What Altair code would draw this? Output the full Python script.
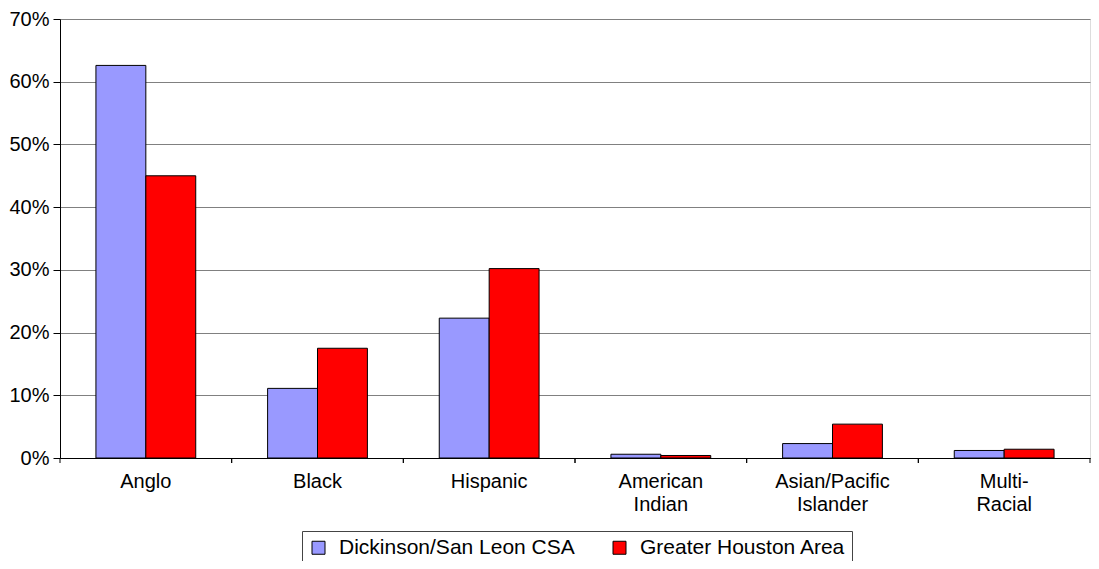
import altair as alt
import pandas as pd

categories = ["Anglo", "Black", "Hispanic", "American Indian",
              "Asian/Pacific Islander", "Multi-Racial"]
series = ["Dickinson/San Leon CSA", "Greater Houston Area"]
dickinson = [0.626, 0.111, 0.223, 0.006, 0.023, 0.012]
houston = [0.450, 0.175, 0.302, 0.004, 0.054, 0.014]
colors = ["#9999FF", "#FF0000"]

rows = []
for c, a, b in zip(categories, dickinson, houston):
    rows.append({"category": c, "series": series[0], "value": a})
    rows.append({"category": c, "series": series[1], "value": b})
df = pd.DataFrame(rows)
cats_df = pd.DataFrame({"category": categories})

FONT = "Liberation Sans"
W, H = 1030, 439

x_axis = alt.Axis(
    title=None, labelAngle=0, ticks=False, grid=False,
    domainColor="black", labelColor="black", labelFont=FONT,
    labelFontSize=20, labelPadding=13, labelLineHeight=23,
    labelExpr="datum.label == 'Multi-Racial' ? ['Multi-', 'Racial'] : split(datum.label, ' ')",
)
x_scale = alt.Scale(paddingInner=0, paddingOuter=0)

bars = alt.Chart(df).mark_bar(stroke="black", strokeWidth=1).encode(
    x=alt.X("category:N", sort=categories, scale=x_scale, axis=x_axis),
    xOffset=alt.XOffset("series:N", sort=series,
                        scale=alt.Scale(paddingInner=0, paddingOuter=0.72)),
    y=alt.Y("value:Q", scale=alt.Scale(domain=[0, 0.7]),
            axis=alt.Axis(title=None, format=".0%",
                          values=[0, 0.1, 0.2, 0.3, 0.4, 0.5, 0.6, 0.7],
                          tickSize=7, tickColor="black", labelPadding=4,
                          labelFontSize=20, labelFont=FONT, labelColor="black",
                          gridColor="#808080", domainColor="black")),
    color=alt.Color("series:N", sort=series,
                    scale=alt.Scale(domain=series, range=colors),
                    legend=alt.Legend(
                        title=None, orient="none", legendX=242, legendY=512,
                        direction="horizontal", symbolType="square",
                        symbolSize=169, symbolStrokeColor="black",
                        symbolStrokeWidth=1, symbolOpacity=1,
                        labelFontSize=21, labelFont=FONT, labelColor="black",
                        labelLimit=0, labelOffset=10, columnPadding=34,
                        strokeColor="#444444", fillColor="white", padding=6)),
)

tick_lo = alt.Chart(cats_df).mark_rule(color="black", strokeWidth=1).encode(
    x=alt.X("category:N", sort=categories, scale=x_scale, axis=x_axis,
            bandPosition=0),
    y=alt.value(H), y2=alt.value(H + 5),
)
tick_hi = alt.Chart(cats_df).mark_rule(color="black", strokeWidth=1).encode(
    x=alt.X("category:N", sort=categories, scale=x_scale, axis=x_axis,
            bandPosition=1),
    y=alt.value(H), y2=alt.value(H + 5),
)

chart = alt.layer(bars, tick_lo, tick_hi).properties(
    width=W, height=H,
    padding={"left": 52, "top": 11, "right": 1, "bottom": 103},
    autosize=alt.AutoSizeParams(type="none"),
).configure_view(stroke=None).configure(background="white")

chart.save("out.html", embed_options={"renderer": "svg", "actions": False})
